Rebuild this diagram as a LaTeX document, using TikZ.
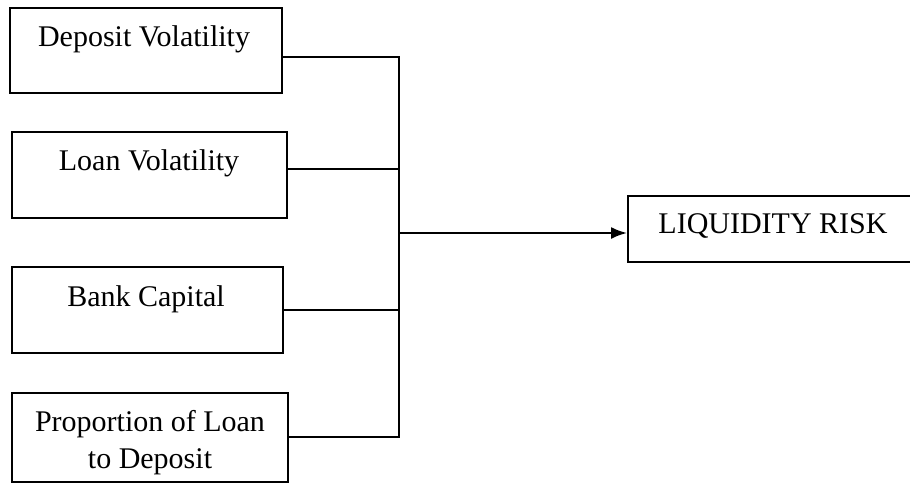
\documentclass[tikz,border=0pt]{standalone}
\usepackage{fontspec}
\setmainfont{Liberation Serif}
\usetikzlibrary{arrows.meta,calc}
\begin{document}
\begin{tikzpicture}[x=1pt,y=-1pt,
  box/.style={draw=black,line width=2pt,inner sep=0pt,minimum width=#1},
  lbl/.style={inner sep=0pt,anchor=base,font=\fontsize{30}{37}\selectfont,align=center},
  conn/.style={draw=black,line width=2pt}]
\useasboundingbox[fill=white] (0,0) rectangle (910,483);
% boxes
\node[box=272pt,minimum height=85pt] (b1) at (146,50.5) {};
\node[box=275pt,minimum height=86pt] (b2) at (149.5,175) {};
\node[box=271pt,minimum height=86pt] (b3) at (147.5,310) {};
\node[box=276pt,minimum height=89pt] (b4) at (150,437.5) {};
\node[box=312pt,minimum height=66pt] (r) at (784,229) {};
% labels
\node[lbl] (t1) at (144,46) {Deposit Volatility};
\node[lbl] (t2) at (149,170.5) {Loan Volatility};
\node[lbl] (t3) at (146,306.5) {Bank Capital};
\node[lbl] (t4a) at (150,431) {Proportion of Loan};
\node[lbl] (t4b) at (150,468) {to Deposit};
\node[lbl] (t5) at (773,233) {LIQUIDITY RISK};
% bus
\coordinate (top) at (399,57);
\coordinate (y2) at (399,169);
\coordinate (y3) at (399,310);
\coordinate (bot) at (399,437);
\coordinate (mid) at (399,233);
\draw[conn] (b1.east |- top) -- (top) -- (bot) -- (b4.east |- bot);
\draw[conn] (b2.east |- y2) -- (y2);
\draw[conn] (b3.east |- y3) -- (y3);
\draw[conn,-{Latex[length=16pt,width=12pt]}] (mid) -- (r.west |- mid);
\end{tikzpicture}
\end{document}
